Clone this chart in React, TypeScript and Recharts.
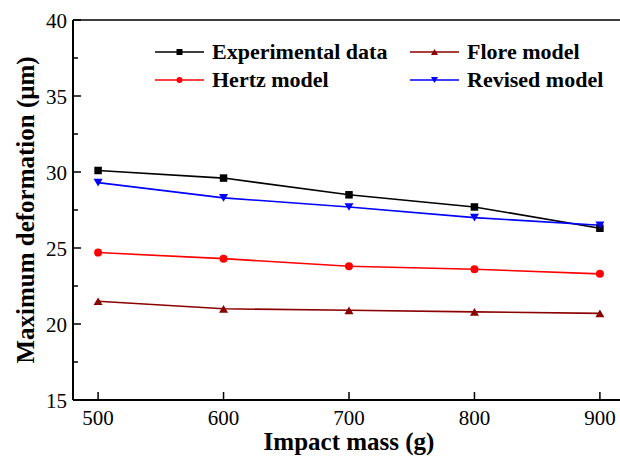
import React from 'react';
import { LineChart, Line, XAxis, YAxis, ReferenceLine } from 'recharts';

const masses = [500, 600, 700, 800, 900];
const experimental = [30.1, 29.6, 28.5, 27.7, 26.3];
const flore = [21.5, 21.0, 20.9, 20.8, 20.7];
const hertz = [24.7, 24.3, 23.8, 23.6, 23.3];
const revised = [29.3, 28.3, 27.7, 27.0, 26.5];
const xTicks = [500, 600, 700, 800, 900];
const yTicks = [15, 17.5, 20, 22.5, 25, 27.5, 30, 32.5, 35, 37.5, 40];

type MarkerType = 'square' | 'circle' | 'triUp' | 'triDown';

const series: { key: string; name: string; color: string; marker: MarkerType; values: number[] }[] = [
  { key: 'exp', name: 'Experimental data', color: '#000000', marker: 'square', values: experimental },
  { key: 'flore', name: 'Flore model', color: '#8b0000', marker: 'triUp', values: flore },
  { key: 'hertz', name: 'Hertz model', color: '#ff0000', marker: 'circle', values: hertz },
  { key: 'revised', name: 'Revised model', color: '#0000ff', marker: 'triDown', values: revised },
];

const data = masses.map((m, i) => {
  const row: Record<string, number> = { mass: m };
  series.forEach((s) => (row[s.key] = s.values[i]));
  return row;
});

const FONT = '"Liberation Serif", "Times New Roman", serif';

function markerShape(type: MarkerType, cx: number, cy: number, color: string, s: number) {
  if (type === 'square') return <rect x={cx - s / 2} y={cy - s / 2} width={s} height={s} fill={color} />;
  if (type === 'circle') return <circle cx={cx} cy={cy} r={s / 2} fill={color} />;
  const h = s * 0.85;
  if (type === 'triUp') {
    return <polygon points={`${cx - s / 2},${cy + h / 2} ${cx + s / 2},${cy + h / 2} ${cx},${cy - h / 2}`} fill={color} />;
  }
  return <polygon points={`${cx - s / 2},${cy - h / 2} ${cx + s / 2},${cy - h / 2} ${cx},${cy + h / 2}`} fill={color} />;
}

const makeDot = (type: MarkerType, color: string, s: number) => (props: any) => {
  const { cx, cy, index } = props;
  if (cx == null || cy == null) return <g key={index} />;
  return <g key={index}>{markerShape(type, cx, cy, color, s)}</g>;
};

const YTick = (props: any) => {
  const { x, y, payload } = props;
  const v = payload.value;
  const major = Math.abs(v % 5) < 1e-6;
  const ax = x + 6;
  return (
    <g>
      <line x1={ax} y1={y} x2={ax + (major ? 8 : 5)} y2={y} stroke="#000" strokeWidth={1.5} />
      {major && (
        <text x={x} y={y + 7.5} textAnchor="end" fontFamily={FONT} fontSize={21} fill="#000">
          {v}
        </text>
      )}
    </g>
  );
};

const XTick = (props: any) => {
  const { x, y, payload } = props;
  const ay = y - 6;
  return (
    <g>
      <line x1={x} y1={ay} x2={x} y2={ay - 8} stroke="#000" strokeWidth={1.5} />
      <text x={x} y={ay + 25} textAnchor="middle" fontFamily={FONT} fontSize={21} fill="#000">
        {payload.value}
      </text>
    </g>
  );
};

const legendPos = [
  { left: 155, top: 41 },
  { left: 410, top: 41 },
  { left: 155, top: 69 },
  { left: 410, top: 69 },
];

export default function App() {
  return (
    <div style={{ position: 'fixed', left: 0, top: 0, width: 620, height: 461, overflow: 'hidden', background: '#fff' }}>
      <LineChart width={640} height={461} data={data} margin={{ top: 20, right: 15, left: 0, bottom: 0 }}>
        <XAxis
          dataKey="mass"
          type="number"
          domain={[480, 920]}
          ticks={xTicks}
          tick={<XTick />}
          tickLine={false}
          tickSize={0}
          tickMargin={6}
          height={61}
          axisLine={{ stroke: '#000', strokeWidth: 2 }}
          label={{
            value: 'Impact mass (g)',
            position: 'insideBottom',
            offset: 11,
            style: { fontFamily: FONT, fontSize: 25, fontWeight: 'bold', fill: '#000' },
          }}
        />
        <YAxis
          type="number"
          domain={[15, 40]}
          ticks={yTicks}
          interval={0}
          tick={<YTick />}
          tickLine={false}
          tickSize={0}
          tickMargin={6}
          width={73}
          axisLine={{ stroke: '#000', strokeWidth: 2 }}
          label={{
            value: 'Maximum deformation (\u03bcm)',
            angle: -90,
            position: 'insideLeft',
            offset: 25,
            style: { textAnchor: 'middle', fontFamily: FONT, fontSize: 25, fontWeight: 'bold', fill: '#000' },
          }}
        />
        <ReferenceLine y={40} stroke="#000" strokeWidth={1.5} ifOverflow="visible" />
        <ReferenceLine x={920} stroke="#000" strokeWidth={1.5} ifOverflow="visible" />
        {series.map((s) => (
          <Line
            key={s.key}
            dataKey={s.key}
            name={s.name}
            stroke={s.color}
            strokeWidth={1.6}
            isAnimationActive={false}
            dot={makeDot(s.marker, s.color, s.marker === 'circle' ? 8 : s.marker === 'square' ? 7.5 : 9)}
            activeDot={false}
          />
        ))}
      </LineChart>
      {series.map((s, i) => (
        <div
          key={s.key}
          style={{
            position: 'absolute',
            left: legendPos[i].left,
            top: legendPos[i].top,
            display: 'flex',
            alignItems: 'center',
            fontFamily: FONT,
            fontWeight: 'bold',
            fontSize: 22,
            lineHeight: '22px',
            whiteSpace: 'nowrap',
            color: '#000',
          }}
        >
          <svg width={50} height={22} style={{ display: 'block' }}>
            <line x1={0} y1={11} x2={49} y2={11} stroke={s.color} strokeWidth={1.6} />
            {markerShape(s.marker, 24.5, 11, s.color, s.marker === 'square' || s.marker === 'circle' ? 6 : 7)}
          </svg>
          <span style={{ marginLeft: 7 }}>{s.name}</span>
        </div>
      ))}
    </div>
  );
}
